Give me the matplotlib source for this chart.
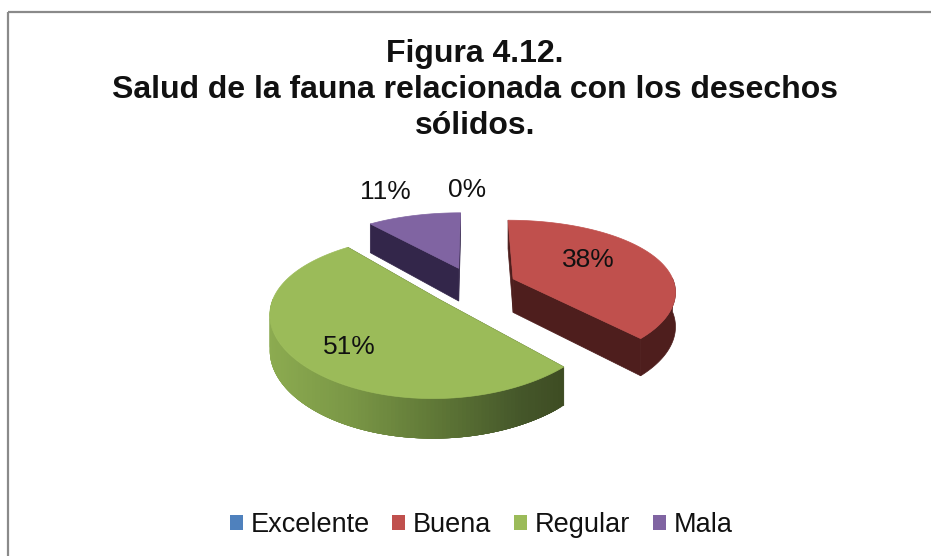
import numpy as np
import matplotlib
matplotlib.use("Agg")
import matplotlib.pyplot as plt
from matplotlib.patches import Patch, Polygon, Rectangle

categories = ["Excelente", "Buena", "Regular", "Mala"]
values = [0, 38, 51, 11]
title = "Figura 4.12.\nSalud de la fauna relacionada con los desechos\nsólidos."

top_colors = ["#4F81BD", "#C0504D", "#9BBB59", "#8064A2"]
side_colors = ["#28415F", "#4E1E1D", "#3E4C23", "#33264A"]
label_xy = [(467, 190), (588, 260), (349, 347), (385.5, 192)]

plt.rcParams["font.family"] = ["Liberation Sans", "DejaVu Sans"]

# pie geometry, in figure pixels
CX, CY, RX, RY = 473, 286, 162, 73
EXPLODE, PERSP, DEPTH = 0.27, 0.20, 34


def project(u, v, down=0.0):
    u, v = np.asarray(u, float), np.asarray(v, float)
    w = 1 / (1 - PERSP * v)
    wx = w ** 0.75
    d = DEPTH * (1 + 0.15 * v) * down
    return np.column_stack([CX + RX * u * wx, CY + RY * v * w + d])


def green_shade(x):
    xs = [270, 350, 440, 520, 567]
    rs = [[0x8C, 0xAB, 0x50], [0x7A, 0x97, 0x46], [0x5E, 0x76, 0x36], [0x45, 0x57, 0x2A], [0x3D, 0x4B, 0x22]]
    return tuple(np.interp(x, xs, [c[i] for c in rs]) / 255 for i in range(3))


fig = plt.figure(figsize=(9.31, 5.56), dpi=100, facecolor="white")
ax = fig.add_axes([0, 0, 1, 1])
ax.set_xlim(0, 931)
ax.set_ylim(556, 0)
ax.axis("off")

# chart frame
ax.add_patch(Rectangle((8, 12), 940, 570, fill=False, edgecolor="#8A8A8A", linewidth=1.6, clip_on=True))

fractions = np.array(values, float) / sum(values)
edges = np.concatenate([[0], np.cumsum(fractions)]) * 2 * np.pi

for i, val in enumerate(values):
    if val == 0:
        continue
    t1, t2 = edges[i], edges[i + 1]
    mid = (t1 + t2) / 2
    ou, ov = EXPLODE * np.sin(mid), -EXPLODE * np.cos(mid)
    t = np.linspace(t1, t2, 160)
    au, av = ou + np.sin(t), ov - np.cos(t)

    # cut faces
    for k in (0, -1):
        face = np.vstack([project([ou, au[k]], [ov, av[k]]),
                          project([au[k], ou], [av[k], ov], 1.0)])
        ax.add_patch(Polygon(face, closed=True, facecolor=side_colors[i], edgecolor=side_colors[i], linewidth=0.5))

    # outer wall
    front = np.where(np.cos(t) < 0.02)[0]
    if len(front) > 1:
        if categories[i] == "Regular":
            # overlapping strips, painted right to left, give a seamless shading
            for j in range(len(front) - 1):
                a, b = front[j], min(front[j] + 5, front[-1]) + 1
                quad = np.vstack([project(au[a:b], av[a:b]),
                                  project(au[a:b][::-1], av[a:b][::-1], 1.0)])
                col = green_shade(project(au[a:a + 2], av[a:a + 2])[:, 0].mean())
                ax.add_patch(Polygon(quad, closed=True, facecolor=col, edgecolor="none"))
        else:
            wall = np.vstack([project(au[front], av[front]),
                              project(au[front][::-1], av[front][::-1], 1.0)])
            ax.add_patch(Polygon(wall, closed=True, facecolor=side_colors[i], edgecolor=side_colors[i], linewidth=0.5))

    # top
    top = np.vstack([project([ou], [ov]), project(au, av)])
    ax.add_patch(Polygon(top, closed=True, facecolor=top_colors[i], edgecolor=top_colors[i], linewidth=0.5))

for (x, y), val in zip(label_xy, values):
    ax.text(x, y, f"{val}%", ha="center", va="center", fontsize=19, color="#111111", zorder=10)

ax.text(475, 90, title, ha="center", va="center", fontsize=23, fontweight="bold",
        linespacing=1.27, color="#111111")

handles = [Patch(facecolor=c, edgecolor="none", label=n) for c, n in zip(top_colors, categories)]
ax.legend(handles=handles, ncol=4, loc="center", bbox_to_anchor=(481 / 931, 1 - 525 / 556),
          frameon=False, fontsize=19.5, handlelength=0.48, handleheight=0.48,
          handletextpad=0.28, columnspacing=0.84, labelcolor="#111111")

fig.savefig("out.png", dpi=100, facecolor="white")
